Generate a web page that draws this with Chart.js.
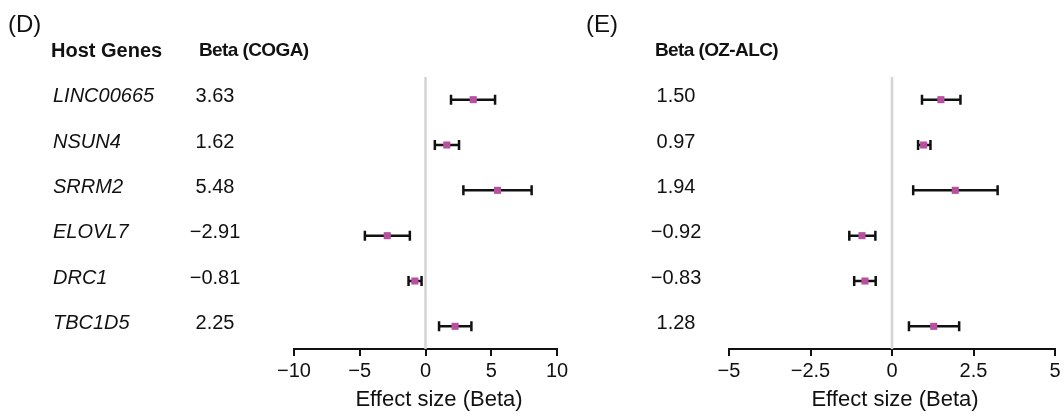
<!DOCTYPE html>
<html lang="en">
<head>
    <meta charset="UTF-8">
    <title>Host gene effect sizes</title>
    <script src="https://cdn.jsdelivr.net/npm/chart.js"></script>
    <style>
        body { margin: 0; background: #fff; }
        #wrap { position: relative; width: 1064px; height: 418px; overflow: hidden; }
        canvas { position: absolute; top: 0; }
    </style>
</head>
<body>
    <div id="wrap">
        <canvas id="cogaChart" width="580" height="418" style="left:0"></canvas>
        <canvas id="ozChart" width="484" height="418" style="left:580px"></canvas>
    </div>

    <script>
        // Data
        const genes = ['LINC00665', 'NSUN4', 'SRRM2', 'ELOVL7', 'DRC1', 'TBC1D5'];

        const cogaBeta = [3.63, 1.62, 5.48, -2.91, -0.81, 2.25];
        const cogaLow  = [1.94, 0.71, 2.88, -4.61, -1.29, 1.03];
        const cogaHigh = [5.29, 2.55, 8.07, -1.19, -0.30, 3.49];

        const ozBeta = [1.50, 0.97, 1.94, -0.92, -0.83, 1.28];
        const ozLow  = [0.92, 0.80, 0.65, -1.31, -1.16, 0.52];
        const ozHigh = [2.10, 1.18, 3.24, -0.51, -0.50, 2.06];

        const cogaTicks = [-10, -5, 0, 5, 10];
        const ozTicks = [-5, -2.5, 0, 2.5, 5];

        const FONT = '"Liberation Sans", Arial, Helvetica, sans-serif';
        const INK = '#111';
        const POINT = '#b9509f';

        function fmt(v) {
            return v < 0 ? '\u2212' + Math.abs(v) : String(v);
        }
        function fmt2(v) {
            return v < 0 ? '\u2212' + Math.abs(v).toFixed(2) : v.toFixed(2);
        }

        // zero line + error bars, drawn under the points
        const forestPlugin = {
            id: 'forest',
            beforeDatasetsDraw(chart, args, opts) {
                const ctx = chart.ctx;
                const xs = chart.scales.x, ys = chart.scales.y;
                const area = chart.chartArea;
                ctx.save();
                // reference line at 0
                ctx.strokeStyle = '#d4d4d4';
                ctx.lineWidth = 2.5;
                ctx.beginPath();
                ctx.moveTo(xs.getPixelForValue(0), area.top);
                ctx.lineTo(xs.getPixelForValue(0), area.bottom);
                ctx.stroke();
                // error bars
                ctx.strokeStyle = INK;
                ctx.lineWidth = 2.5;
                opts.low.forEach((lo, i) => {
                    const y = ys.getPixelForValue(i);
                    const x1 = xs.getPixelForValue(lo);
                    const x2 = xs.getPixelForValue(opts.high[i]);
                    ctx.beginPath();
                    ctx.moveTo(x1, y); ctx.lineTo(x2, y);
                    ctx.moveTo(x1, y - 5); ctx.lineTo(x1, y + 5);
                    ctx.moveTo(x2, y - 5); ctx.lineTo(x2, y + 5);
                    ctx.stroke();
                });
                ctx.restore();
            },
            afterDraw(chart, args, opts) {
                const ctx = chart.ctx;
                const ys = chart.scales.y;
                ctx.save();
                ctx.fillStyle = INK;
                ctx.textBaseline = 'middle';

                // panel letter
                ctx.font = '24px ' + FONT;
                ctx.textAlign = 'left';
                ctx.fillText(opts.panel, opts.panelX, 25);

                // column headers
                ctx.font = 'bold 20px ' + FONT;
                if (opts.showGenes) ctx.fillText('Host Genes', 51, 51);
                ctx.font = 'bold 19px ' + FONT;
                ctx.letterSpacing = '-0.6px';
                ctx.fillText(opts.header, opts.headerX, 51);
                ctx.letterSpacing = '0px';

                // gene names and beta values
                opts.beta.forEach((b, i) => {
                    const y = ys.getPixelForValue(i) - 3;
                    if (opts.showGenes) {
                        ctx.font = 'italic 20px ' + FONT;
                        ctx.textAlign = 'left';
                        ctx.fillText(genes[i], 53, y);
                    }
                    ctx.font = '20px ' + FONT;
                    ctx.textAlign = 'center';
                    ctx.fillText(fmt2(b), opts.valueX, y);
                });

                // axis title
                ctx.font = '22px ' + FONT;
                ctx.textAlign = 'center';
                ctx.fillText('Effect size (Beta)', opts.titleX, 400);
                ctx.restore();
            }
        };

        function makeChart(id, beta, low, high, ticks, padLeft, padRight, textOpts) {
            return new Chart(document.getElementById(id), {
                type: 'scatter',
                data: {
                    datasets: [{
                        data: beta.map((b, i) => ({ x: b, y: i })),
                        pointStyle: 'rect',
                        pointRadius: 5,
                        pointHoverRadius: 5,
                        backgroundColor: POINT,
                        borderColor: POINT,
                        borderWidth: 0
                    }]
                },
                options: {
                    responsive: false,
                    animation: false,
                    devicePixelRatio: 1,
                    layout: { padding: { left: padLeft, right: padRight, top: 77, bottom: 0 } },
                    plugins: {
                        legend: { display: false },
                        tooltip: { enabled: false },
                        forest: Object.assign({ low: low, high: high, beta: beta }, textOpts)
                    },
                    scales: {
                        x: {
                            type: 'linear',
                            min: ticks[0],
                            max: ticks[ticks.length - 1],
                            afterBuildTicks: s => { s.ticks = ticks.map(v => ({ value: v })); },
                            afterFit: s => { s.height = 69; },
                            border: { display: true, color: INK, width: 2 },
                            grid: { drawOnChartArea: false, drawTicks: true, tickLength: 7, color: INK, lineWidth: 2 },
                            ticks: {
                                color: INK,
                                padding: 3,
                                maxRotation: 0,
                                font: { family: FONT, size: 20 },
                                callback: v => fmt(v)
                            }
                        },
                        y: {
                            type: 'linear',
                            min: -0.5,
                            max: 5.5,
                            reverse: true,
                            display: false
                        }
                    }
                },
                plugins: [forestPlugin]
            });
        }

        // (D) COGA
        makeChart('cogaChart', cogaBeta, cogaLow, cogaHigh, cogaTicks, 294, 23, {
            panel: '(D)', panelX: 8, showGenes: true,
            header: 'Beta (COGA)', headerX: 199, valueX: 215, titleX: 439
        });

        // (E) OZ-ALC
        makeChart('ozChart', ozBeta, ozLow, ozHigh, ozTicks, 149, 9, {
            panel: '(E)', panelX: 6, showGenes: false,
            header: 'Beta (OZ-ALC)', headerX: 75, valueX: 96, titleX: 315
        });
    </script>
</body>
</html>
